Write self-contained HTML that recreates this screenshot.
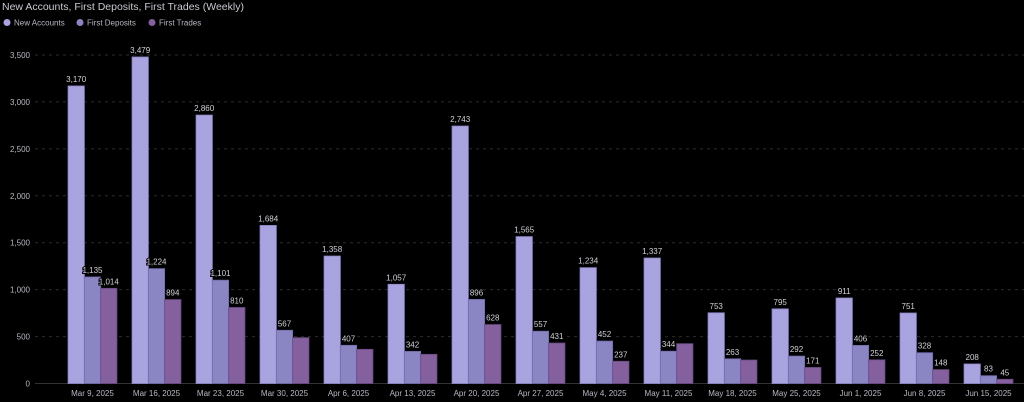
<!DOCTYPE html>
<html><head><meta charset="utf-8"><style>
html,body{margin:0;padding:0;background:#000;width:1024px;height:402px;overflow:hidden}
svg{display:block;font-family:"Liberation Sans",sans-serif}
</style></head><body>
<svg id="chart" width="1024" height="402" viewBox="0 0 1024 402">
<text x="2" y="10" font-size="10.5" fill="#c8c8d0">New Accounts, First Deposits, First Trades (Weekly)</text>
<g font-size="8" fill="#b8b8c4">
<g><circle cx="7" cy="22.5" r="3.5" fill="#a9a3e0"/><text x="14" y="25.5">New Accounts</text></g>
<g><circle cx="80" cy="22.5" r="3.5" fill="#8a86c4"/><text x="87" y="25.5">First Deposits</text></g>
<g><circle cx="152" cy="22.5" r="3.5" fill="#84609e"/><text x="159" y="25.5">First Trades</text></g>
</g>
<g id="grid"></g><g id="bars"></g><g id="labels"></g>
</svg>
<script>
const categories=["Mar 9, 2025","Mar 16, 2025","Mar 23, 2025","Mar 30, 2025","Apr 6, 2025","Apr 13, 2025","Apr 20, 2025","Apr 27, 2025","May 4, 2025","May 11, 2025","May 18, 2025","May 25, 2025","Jun 1, 2025","Jun 8, 2025","Jun 15, 2025"];
const newAccounts=[3170,3479,2860,1684,1358,1057,2743,1565,1234,1337,753,795,911,751,208];
const firstDeposits=[1135,1224,1101,567,407,342,896,557,452,344,263,292,406,328,83];
const firstTrades=[1014,894,810,488,364,311,628,431,237,424,250,171,252,148,45];
const showTradeLabel=[1,1,1,0,0,0,1,1,1,0,0,1,1,1,1];
const yTicks=[0,500,1000,1500,2000,2500,3000,3500];
const NS="http://www.w3.org/2000/svg";
const y0=383.5, pxPer=328.5/3500;
const yScale=v=>y0-v*pxPer;
const xCenter=i=>92.5+i*64;
const bw=16.3;
const grid=document.getElementById('grid'),bars=document.getElementById('bars'),labels=document.getElementById('labels');
function mk(tag,attrs,parent){const e=document.createElementNS(NS,tag);for(const k in attrs)e.setAttribute(k,attrs[k]);parent.appendChild(e);return e;}
const fmt=v=>v.toLocaleString('en-US');
yTicks.forEach(t=>{
  const y=yScale(t);
  const l=mk('line',{x1:35,x2:1024,y1:y,y2:y,stroke:t===0?'#333':'#2c2c2c','stroke-dasharray':t===0?'':'3,4','stroke-width':1},grid);
  
  
  const tx=mk('text',{x:30,y:y+3,'font-size':8,fill:'#b8b8c4','text-anchor':'end'},grid);
  tx.textContent=fmt(t);
  
  
});
const series=[[newAccounts,'#a9a3e0','#8d87c8','new-accounts'],[firstDeposits,'#8a86c4','#6f6ba8','first-deposits'],[firstTrades,'#84609e','#6a4a82','first-trades']];
categories.forEach((c,i)=>{
  const left=xCenter(i)-1.5*bw;
  series.forEach((s,j)=>{
    const v=s[0][i];const x=left+j*bw;const y=yScale(v);
    const r=mk('rect',{x:x,y:y,width:bw,height:y0-y,fill:s[1],stroke:s[2],'stroke-width':0.8},bars);
    
    
    if(j<2||showTradeLabel[i]){
      const t=mk('text',{x:x+bw/2,y:y-4,'font-size':8,fill:'#d0d0d8','text-anchor':'middle',stroke:'#000','stroke-width':2,'paint-order':'stroke'},labels);
      t.textContent=fmt(v);
      
      
    }
  });
  const xl=mk('text',{x:xCenter(i),y:396,'font-size':8,fill:'#b8b8c4','text-anchor':'middle'},labels);
  xl.textContent=c;
  
  
});
</script>
</body></html>
